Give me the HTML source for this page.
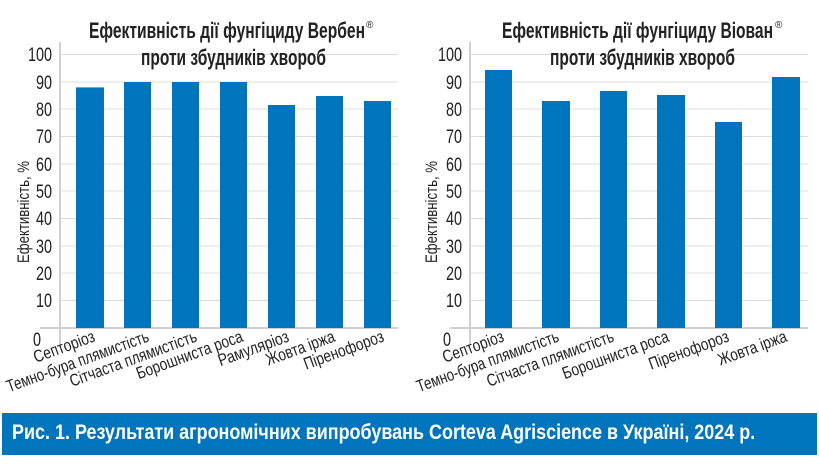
<!DOCTYPE html>
<html><head><meta charset="utf-8"><style>
body{margin:0;width:819px;height:464px;background:#fff;overflow:hidden;position:relative;font-family:"Liberation Sans",sans-serif}
.cap{position:absolute;left:2px;top:413px;width:815px;height:42px;background:#0075bd}
.cap span{position:absolute;left:10px;top:8px;color:#fff;font-weight:bold;font-size:21px;white-space:nowrap;transform:scaleX(0.855);transform-origin:left top}
</style></head><body>
<svg width="819" height="412" style="position:absolute;left:0;top:0" font-family="Liberation Sans, sans-serif">
<g id="L">
<g stroke="#dcdcdc" stroke-width="1">
<line x1="60" x2="398" y1="54.5" y2="54.5"/><line x1="60" x2="398" y1="82" y2="82"/><line x1="60" x2="398" y1="109" y2="109"/><line x1="60" x2="398" y1="136.5" y2="136.5"/><line x1="60" x2="398" y1="164" y2="164"/><line x1="60" x2="398" y1="191" y2="191"/><line x1="60" x2="398" y1="218.5" y2="218.5"/><line x1="60" x2="398" y1="246" y2="246"/><line x1="60" x2="398" y1="273" y2="273"/><line x1="60" x2="398" y1="300.5" y2="300.5"/>
</g>
<line x1="60" x2="60" y1="42" y2="345" stroke="#d0d0d0" stroke-width="2"/>
<line x1="40" x2="398" y1="328" y2="328" stroke="#d0d0d0" stroke-width="2"/>
<g font-size="19" fill="#222" text-anchor="end">
<text x="52" y="61" textLength="24" lengthAdjust="spacingAndGlyphs">100</text><text x="52" y="89" textLength="16" lengthAdjust="spacingAndGlyphs">90</text><text x="52" y="116" textLength="16" lengthAdjust="spacingAndGlyphs">80</text><text x="52" y="143" textLength="16" lengthAdjust="spacingAndGlyphs">70</text><text x="52" y="171" textLength="16" lengthAdjust="spacingAndGlyphs">60</text><text x="52" y="198" textLength="16" lengthAdjust="spacingAndGlyphs">50</text><text x="52" y="225" textLength="16" lengthAdjust="spacingAndGlyphs">40</text><text x="52" y="253" textLength="16" lengthAdjust="spacingAndGlyphs">30</text><text x="52" y="280" textLength="16" lengthAdjust="spacingAndGlyphs">20</text><text x="52" y="307" textLength="16" lengthAdjust="spacingAndGlyphs">10</text><text x="41" y="346" textLength="8" lengthAdjust="spacingAndGlyphs">0</text>
</g>
</g>
<use href="#L" x="410"/>
<text transform="translate(29,212) rotate(-90)" font-size="17" fill="#222" text-anchor="middle" textLength="102" lengthAdjust="spacingAndGlyphs">Ефективність, %</text>
<text transform="translate(437,212) rotate(-90)" font-size="17" fill="#222" text-anchor="middle" textLength="102" lengthAdjust="spacingAndGlyphs">Ефективність, %</text>
<g font-weight="bold" font-size="22" fill="#222">
<text x="89" y="38" textLength="276" lengthAdjust="spacingAndGlyphs">Ефективність дії фунгіциду Вербен</text><text x="366" y="28" font-size="10" font-weight="normal">®</text>
<text x="141" y="65" textLength="185" lengthAdjust="spacingAndGlyphs">проти збудників хвороб</text>
<text x="502" y="38" textLength="271" lengthAdjust="spacingAndGlyphs">Ефективність дії фунгіциду Віован</text><text x="775" y="28" font-size="10" font-weight="normal">®</text>
<text x="550" y="65" textLength="185" lengthAdjust="spacingAndGlyphs">проти збудників хвороб</text>
</g>
<g fill="#0075bd">
<rect x="76" y="87.4" width="28" height="240.6"/><rect x="124" y="82" width="27" height="246"/><rect x="172" y="82" width="27" height="246"/><rect x="220" y="82" width="27" height="246"/><rect x="268" y="105" width="27" height="223"/><rect x="316" y="96" width="27" height="232"/><rect x="364" y="101" width="27" height="227"/>
<rect x="485" y="70" width="27" height="258"/><rect x="542" y="101" width="28" height="227"/><rect x="600" y="91" width="27" height="237"/><rect x="657" y="95" width="28" height="233"/><rect x="715" y="122" width="27" height="206"/><rect x="772" y="77" width="28" height="251"/>
</g>
<g font-size="17" fill="#222" text-anchor="end" lengthAdjust="spacingAndGlyphs">
<text transform="translate(96,341) rotate(-20)" textLength="64" lengthAdjust="spacingAndGlyphs">Септоріоз</text>
<text transform="translate(150,341) rotate(-20)" textLength="150" lengthAdjust="spacingAndGlyphs">Темно-бура плямистість</text>
<text transform="translate(198,341) rotate(-20)" textLength="134" lengthAdjust="spacingAndGlyphs">Сітчаста плямистість</text>
<text transform="translate(244,341) rotate(-20)" textLength="112" lengthAdjust="spacingAndGlyphs">Борошниста роса</text>
<text transform="translate(290,341) rotate(-20)" textLength="74" lengthAdjust="spacingAndGlyphs">Рамуляріоз</text>
<text transform="translate(336,341) rotate(-20)" textLength="72" lengthAdjust="spacingAndGlyphs">Жовта іржа</text>
<text transform="translate(385,341) rotate(-20)" textLength="84" lengthAdjust="spacingAndGlyphs">Піренофороз</text>
<text transform="translate(505,341) rotate(-20)" textLength="64" lengthAdjust="spacingAndGlyphs">Септоріоз</text>
<text transform="translate(560,341) rotate(-20)" textLength="150" lengthAdjust="spacingAndGlyphs">Темно-бура плямистість</text>
<text transform="translate(615,341) rotate(-20)" textLength="134" lengthAdjust="spacingAndGlyphs">Сітчаста плямистість</text>
<text transform="translate(670,341) rotate(-20)" textLength="112" lengthAdjust="spacingAndGlyphs">Борошниста роса</text>
<text transform="translate(730,341) rotate(-20)" textLength="84" lengthAdjust="spacingAndGlyphs">Піренофороз</text>
<text transform="translate(788,341) rotate(-20)" textLength="72" lengthAdjust="spacingAndGlyphs">Жовта іржа</text>
</g>
</svg>
<div class="cap"><span>Рис. 1. Результати агрономічних випробувань Corteva Agriscience в Україні, 2024 р.</span></div>
</body></html>
